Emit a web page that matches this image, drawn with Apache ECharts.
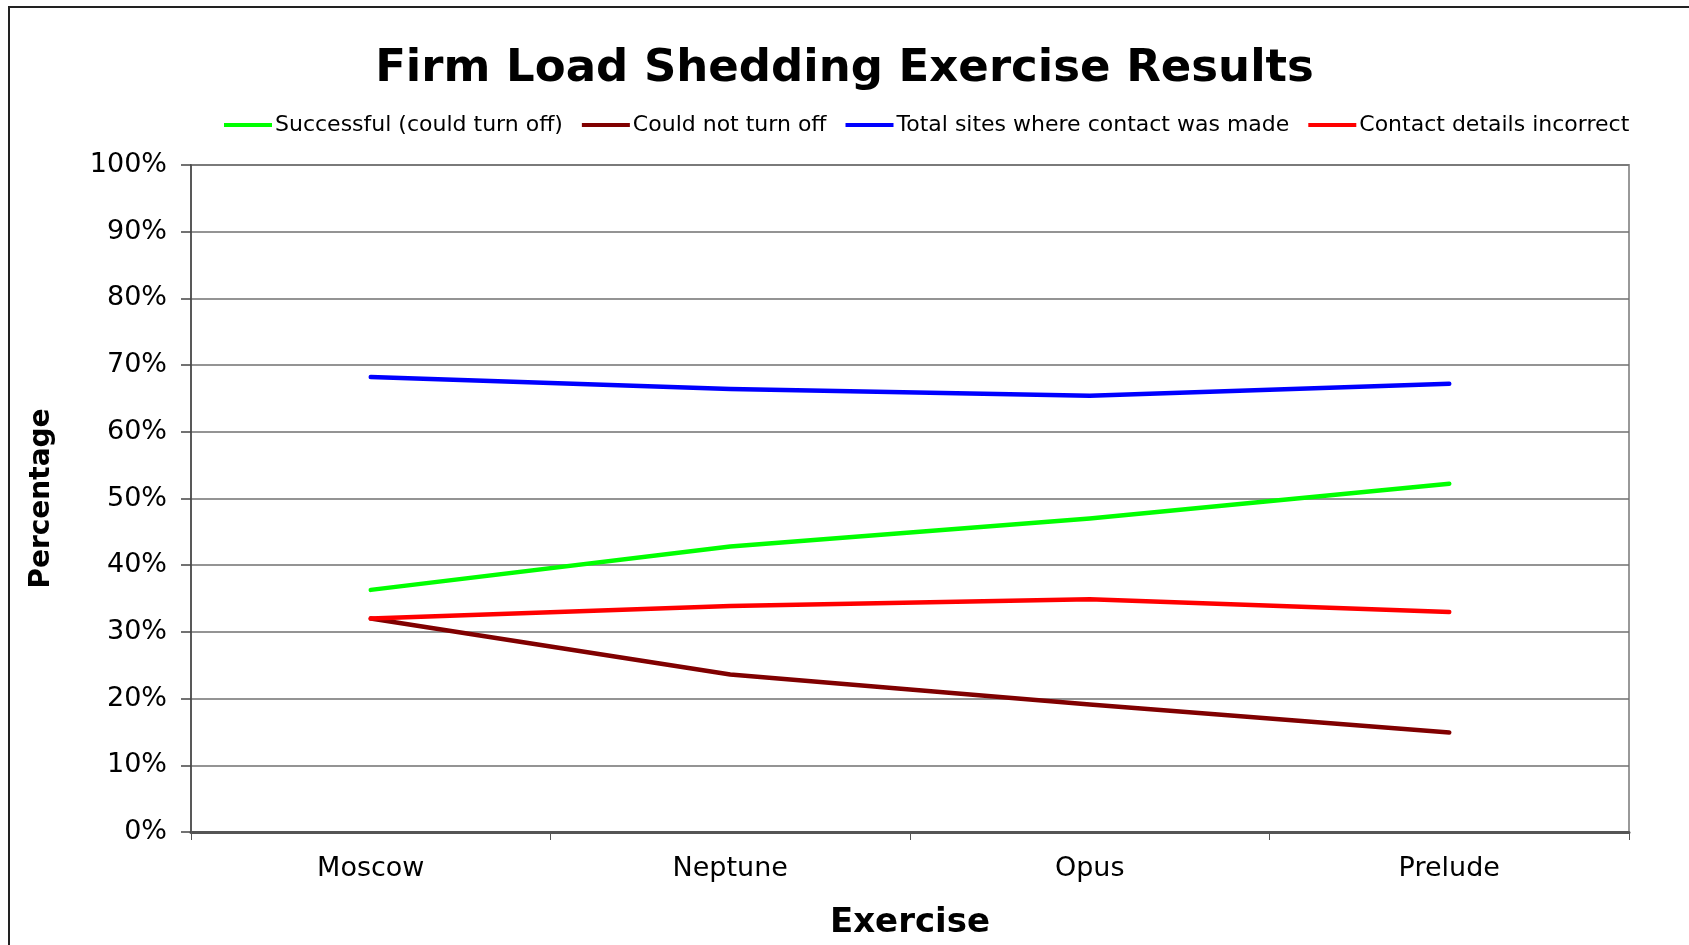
<!DOCTYPE html>
<html>
<head>
<meta charset="utf-8">
<script src="https://cdn.jsdelivr.net/npm/echarts@6/dist/echarts.min.js"></script>
<style>
html,body{margin:0;padding:0;background:#fff;}
#chart{width:1689px;height:945px;}
</style>
</head>
<body>
<div id="chart"></div>
<script>
var categories = ['Moscow', 'Neptune', 'Opus', 'Prelude'];
var successful = [36.3, 42.8, 47.0, 52.2];
var couldNotTurnOff = [32.0, 23.6, 19.1, 14.9];
var totalContact = [68.2, 66.4, 65.4, 67.2];
var contactIncorrect = [32.0, 33.9, 34.9, 33.0];
var seriesNames = ['Successful (could turn off)', 'Could not turn off', 'Total sites where contact was made', 'Contact details incorrect'];
var seriesColors = ['#00ff00', '#800000', '#0000ff', '#ff0000'];
var seriesData = [successful, couldNotTurnOff, totalContact, contactIncorrect];

var FONT = 'DejaVu Sans';
var chart = echarts.init(document.getElementById('chart'));
var option = {
  animation: false,
  backgroundColor: '#ffffff',
  graphic: [{
    type: 'rect',
    shape: {x: 9, y: 7, width: 1700, height: 1000},
    style: {fill: 'none', stroke: '#222', lineWidth: 2},
    silent: true
  }],
  title: {
    text: 'Firm Load Shedding Exercise Results',
    left: 'center',
    top: 42,
    textStyle: {fontFamily: FONT, fontWeight: 'bold', fontSize: 45, color: '#000'}
  },
  legend: {
    top: 109,
    left: 219,
    icon: 'rect',
    itemWidth: 48,
    itemHeight: 4,
    itemGap: 19,
    textStyle: {fontFamily: FONT, fontSize: 22, color: '#000', padding: [0, 0, 0, -2]},
    data: seriesNames
  },
  grid: {
    left: 191, right: 60, top: 165, bottom: 113,
    show: true, borderColor: '#999', borderWidth: 2, backgroundColor: 'transparent'
  },
  xAxis: {
    type: 'category',
    data: categories,
    boundaryGap: true,
    name: 'Exercise',
    nameLocation: 'middle',
    nameGap: 74,
    nameTextStyle: {fontFamily: FONT, fontWeight: 'bold', fontSize: 34, color: '#000'},
    axisLine: {lineStyle: {color: '#555', width: 3}},
    axisTick: {show: true, length: 8, lineStyle: {color: '#555', width: 1}},
    axisLabel: {fontFamily: FONT, fontSize: 27, color: '#000', margin: 23},
    splitLine: {show: false}
  },
  yAxis: {
    type: 'value',
    min: 0, max: 100, interval: 10,
    name: 'Percentage',
    nameLocation: 'middle',
    nameGap: 135,
    nameRotate: 90,
    nameTextStyle: {fontFamily: FONT, fontWeight: 'bold', fontSize: 28, color: '#000'},
    axisLine: {show: true, lineStyle: {color: '#444', width: 1.5}},
    axisTick: {show: true, length: 10, lineStyle: {color: '#444', width: 1.5}},
    axisLabel: {fontFamily: FONT, fontSize: 27, color: '#000', margin: 24, formatter: '{value}%'},
    splitLine: {show: true, lineStyle: {color: '#707070', width: 1.5}}
  },
  series: seriesNames.map(function (n, i) {
    return {
      name: n,
      type: 'line',
      data: seriesData[i],
      symbol: 'none',
      color: seriesColors[i],
      lineStyle: {color: seriesColors[i], width: 4.5, cap: 'round', join: 'round'},
      z: 3
    };
  })
};
chart.setOption(option);
</script>
</body>
</html>
